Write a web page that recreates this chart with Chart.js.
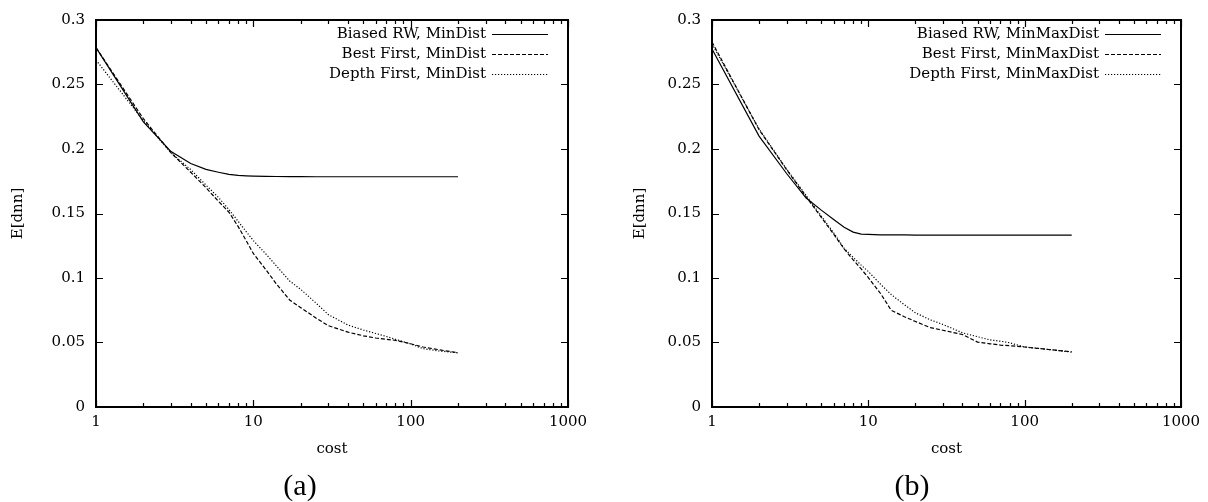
<!DOCTYPE html>
<html>
<head>
<meta charset="utf-8">
<script src="https://cdn.jsdelivr.net/npm/chart.js@4/dist/chart.umd.min.js"></script>
<style>
  body { margin: 0; background: #fff; }
  #wrap { position: relative; width: 1208px; height: 502px; }
  canvas { position: absolute; top: 0; }
</style>
</head>
<body>
<div id="wrap">
  <canvas id="chart_a" width="604" height="502" style="left:0px"></canvas>
  <canvas id="chart_b" width="604" height="502" style="left:604px"></canvas>
</div>
<script>
// x values (cost) shared by all curves
const costs = [1, 2, 3, 4, 5, 6, 7, 8, 9, 10, 12, 14, 17, 20, 25, 30, 40, 50, 60, 70, 80, 100, 120, 150, 200];

// panel (a): MinDist
const biasedMinDist = [0.2786, 0.221, 0.198, 0.1887, 0.1842, 0.182, 0.1803, 0.1795, 0.1792, 0.179, 0.1788, 0.1787, 0.1786,
  0.1786, 0.1785, 0.1785, 0.1785, 0.1785, 0.1785, 0.1785, 0.1785, 0.1785, 0.1785, 0.1785, 0.1785];
const bestMinDist = [0.2786, 0.2235, 0.197, 0.182, 0.170, 0.1595, 0.151, 0.140, 0.129, 0.119, 0.1065, 0.0955, 0.083,
  0.077, 0.069, 0.063, 0.058, 0.0552, 0.0535, 0.0525, 0.0517, 0.049, 0.0465, 0.0445, 0.042];
const depthMinDist = [0.269, 0.222, 0.197, 0.184, 0.172, 0.1625, 0.153, 0.144, 0.136, 0.129, 0.1187, 0.1094, 0.0977,
  0.0912, 0.0806, 0.0716, 0.0635, 0.0597, 0.057, 0.0547, 0.0525, 0.0489, 0.0452, 0.0435, 0.042];

// panel (b): MinMaxDist
const biasedMinMaxDist = [0.2775, 0.210, 0.181, 0.162, 0.1526, 0.1454, 0.1394, 0.1356, 0.134, 0.1338, 0.1335, 0.1334, 0.1334,
  0.1333, 0.1333, 0.1333, 0.1333, 0.1333, 0.1333, 0.1333, 0.1333, 0.1333, 0.1333, 0.1333, 0.1333];
const bestMinMaxDist = [0.283, 0.215, 0.184, 0.163, 0.147, 0.134, 0.1225, 0.114, 0.107, 0.1003, 0.0878, 0.075, 0.070,
  0.0663, 0.0615, 0.0595, 0.0562, 0.0503, 0.049, 0.048, 0.0475, 0.0465, 0.0455, 0.0443, 0.0428];
const depthMinMaxDist = [0.2815, 0.2155, 0.1845, 0.164, 0.148, 0.135, 0.123, 0.116, 0.110, 0.105, 0.095, 0.0872, 0.0793,
  0.073, 0.0675, 0.064, 0.0575, 0.0545, 0.052, 0.051, 0.0498, 0.0465, 0.0455, 0.0443, 0.0425];

const xTickValues = [1, 10, 100, 1000];
const xTickLabels = ['1', '10', '100', '1000'];
const yTickValues = [0, 0.05, 0.1, 0.15, 0.2, 0.25, 0.3];
const yTickLabels = ['0', '0.05', '0.1', '0.15', '0.2', '0.25', '0.3'];

const FONT = 'DejaVu Serif';
const dashes = [[], [4, 2], [1.2, 1.8]];

// gnuplot style box, inward ticks, legend and panel caption
const gnuplotFrame = {
  id: 'gnuplotFrame',
  afterDatasetsDraw(chart, args, opts) {
    const {ctx, chartArea: a, scales: {x, y}} = chart;
    ctx.save();
    ctx.strokeStyle = '#000';
    ctx.lineWidth = 1.2;
    ctx.beginPath();
    for (let d = 1; d < 1000; d *= 10) {
      for (let k = 2; k < 10; k++) {
        const px = Math.round(x.getPixelForValue(d * k)) + 0.5;
        ctx.moveTo(px, a.bottom); ctx.lineTo(px, a.bottom - 4);
        ctx.moveTo(px, a.top); ctx.lineTo(px, a.top + 4);
      }
    }
    xTickValues.forEach(v => {
      const px = Math.round(x.getPixelForValue(v)) + 0.5;
      ctx.moveTo(px, a.bottom); ctx.lineTo(px, a.bottom - 7);
      ctx.moveTo(px, a.top); ctx.lineTo(px, a.top + 7);
    });
    yTickValues.forEach(v => {
      const py = Math.round(y.getPixelForValue(v)) + 0.5;
      ctx.moveTo(a.left, py); ctx.lineTo(a.left + 7, py);
      ctx.moveTo(a.right, py); ctx.lineTo(a.right - 7, py);
    });
    ctx.stroke();
    ctx.lineWidth = 2;
    ctx.strokeRect(a.left, a.top, a.right - a.left, a.bottom - a.top);

    // legend
    ctx.font = '15px "' + FONT + '"';
    ctx.fillStyle = '#000';
    ctx.textAlign = 'right';
    ctx.textBaseline = 'middle';
    const rows = [34, 54, 74];
    chart.data.datasets.forEach((ds, i) => {
      ctx.fillText(ds.label, a.right - 82, rows[i]);
      ctx.lineWidth = 1.2;
      ctx.setLineDash(dashes[i]);
      ctx.beginPath();
      ctx.moveTo(a.right - 76, rows[i] + 0.5);
      ctx.lineTo(a.right - 20, rows[i] + 0.5);
      ctx.stroke();
    });
    ctx.setLineDash([]);

    ctx.font = '30px "Liberation Serif"';
    ctx.textAlign = 'center';
    ctx.fillText(opts.caption, opts.captionX, 487);
    ctx.restore();
  }
};

function makeChart(id, labels, series, caption, captionX, leftW, rightPad, yTitlePad) {
  const datasets = series.map((s, i) => ({
    label: labels[i],
    data: costs.map((c, j) => ({x: c, y: s[j]})),
    borderColor: '#000',
    borderWidth: 1.2,
    borderDash: dashes[i],
    pointRadius: 0,
    tension: 0,
    fill: false
  }));
  return new Chart(document.getElementById(id).getContext('2d'), {
    type: 'line',
    data: {datasets: datasets},
    plugins: [gnuplotFrame],
    options: {
      responsive: false,
      animation: false,
      layout: {padding: {left: 0, right: rightPad, top: 20, bottom: 0}},
      scales: {
        x: {
          type: 'logarithmic', min: 1, max: 1000,
          afterBuildTicks: s => { s.ticks = xTickValues.map(v => ({value: v})); },
          afterFit: s => { s.height = 95; },
          grid: {display: false, drawTicks: false},
          border: {display: false},
          ticks: {
            autoSkip: false, maxRotation: 0, padding: 6, color: '#000',
            font: {family: FONT, size: 15},
            callback: (v, i) => xTickLabels[i]
          },
          title: {display: true, text: 'cost', color: '#000',
            font: {family: FONT, size: 15}, padding: {top: 0, bottom: 44}}
        },
        y: {
          min: 0, max: 0.3,
          afterBuildTicks: s => { s.ticks = yTickValues.map(v => ({value: v})); },
          afterFit: s => { s.width = leftW; },
          grid: {display: false, drawTicks: false},
          border: {display: false},
          ticks: {
            padding: 11, color: '#000',
            font: {family: FONT, size: 15},
            callback: (v, i) => yTickLabels[i]
          },
          title: {display: true, text: 'E[dnn]', color: '#000',
            font: {family: FONT, size: 15}, padding: {top: yTitlePad, bottom: 0}}
        }
      },
      plugins: {
        legend: {display: false},
        tooltip: {enabled: false},
        gnuplotFrame: {caption: caption, captionX: captionX}
      }
    }
  });
}

makeChart('chart_a',
  ['Biased RW, MinDist', 'Best First, MinDist', 'Depth First, MinDist'],
  [biasedMinDist, bestMinDist, depthMinDist], '(a)', 300, 96, 36, 9);
makeChart('chart_b',
  ['Biased RW, MinMaxDist', 'Best First, MinMaxDist', 'Depth First, MinMaxDist'],
  [biasedMinMaxDist, bestMinMaxDist, depthMinMaxDist], '(b)', 308, 108, 27, 27);
</script>
</body>
</html>
